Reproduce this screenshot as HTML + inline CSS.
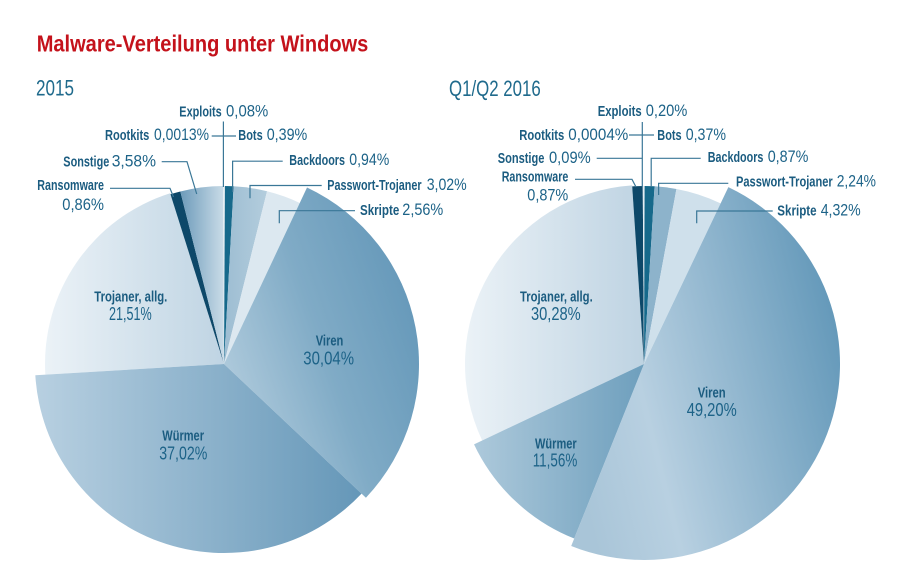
<!DOCTYPE html>
<html><head><meta charset="utf-8"><style>
html,body{margin:0;padding:0;background:#fff;}
svg{display:block;}
.b{font-family:"Liberation Sans",sans-serif;font-weight:bold;font-size:14.5px;fill:#1b5c80;}
.n{font-family:"Liberation Sans",sans-serif;font-weight:normal;font-size:16.5px;fill:#1d6388;}
.ib{font-family:"Liberation Sans",sans-serif;font-weight:bold;font-size:15px;fill:#1b5c80;}
.in{font-family:"Liberation Sans",sans-serif;font-weight:normal;font-size:18.5px;fill:#1d6388;}
.ln{stroke:#3a7797;stroke-width:1.2;fill:none;}
</style></head><body>
<svg width="900" height="586" viewBox="0 0 900 586" xmlns="http://www.w3.org/2000/svg">
<defs>
<linearGradient id="lTro" x1="0" y1="0" x2="1" y2="0"><stop offset="0" stop-color="#ebf2f7"/><stop offset="1" stop-color="#bfd4e3"/></linearGradient>
<linearGradient id="lWur" x1="0" y1="0" x2="1" y2="0"><stop offset="0" stop-color="#b8d0e1"/><stop offset="1" stop-color="#6597b8"/></linearGradient>
<linearGradient id="lVir" x1="0" y1="0.9" x2="1" y2="0.35"><stop offset="0" stop-color="#bcd3e2"/><stop offset="0.55" stop-color="#80abc6"/><stop offset="1" stop-color="#6598b9"/></linearGradient>
<linearGradient id="lSon" x1="0" y1="0" x2="1" y2="0"><stop offset="0" stop-color="#6d9bba"/><stop offset="1" stop-color="#cadce8"/></linearGradient>
<linearGradient id="lPas" x1="0" y1="0" x2="1" y2="0"><stop offset="0" stop-color="#9dbdd2"/><stop offset="1" stop-color="#b3cddd"/></linearGradient>
<linearGradient id="rTro" x1="0" y1="0" x2="1" y2="0"><stop offset="0" stop-color="#ebf2f7"/><stop offset="1" stop-color="#bed3e2"/></linearGradient>
<linearGradient id="rWur" x1="0" y1="0" x2="1" y2="0"><stop offset="0" stop-color="#adc9db"/><stop offset="1" stop-color="#6e9fbd"/></linearGradient>
<linearGradient id="rVir" x1="0" y1="0.7" x2="1" y2="0.35"><stop offset="0" stop-color="#a9c5d8"/><stop offset="0.28" stop-color="#b8d0e1"/><stop offset="1" stop-color="#6398b9"/></linearGradient>
</defs>
<rect width="900" height="586" fill="#fff"/>

<!-- Titles -->
<text x="36.7" y="51.5" font-family="Liberation Sans, sans-serif" font-weight="bold" font-size="23" fill="#c4121b" textLength="331.6" lengthAdjust="spacingAndGlyphs">Malware-Verteilung unter Windows</text>
<text x="36" y="95.5" font-family="Liberation Sans, sans-serif" font-size="22" fill="#1f6a8c" textLength="38" lengthAdjust="spacingAndGlyphs">2015</text>
<text x="449" y="96" font-family="Liberation Sans, sans-serif" font-size="22" fill="#1f6a8c" textLength="91.7" lengthAdjust="spacingAndGlyphs">Q1/Q2 2016</text>

<!-- LEFT PIE -->
<path d="M224,364 L45.31,374.62 A179,179 0 0 1 170.17,193.28 Z" fill="url(#lTro)"/>
<path d="M224,364 L170.47,194.24 A178,178 0 0 1 180.33,191.44 Z" fill="#0d4869"/>
<path d="M224,364 L180.33,191.44 A178,178 0 0 1 223.07,186 Z" fill="url(#lSon)"/>
<path d="M224,364 L223.07,186 A178,178 0 0 1 224.93,186 Z" fill="#e4edf3"/>
<path d="M224,364 L224.93,186 A178,178 0 0 1 233.63,186.26 Z" fill="#16698b"/>
<path d="M224,364 L233.63,186.26 A178,178 0 0 1 267.06,191.29 Z" fill="url(#lPas)"/>
<path d="M224,364 L267.06,191.29 A178,178 0 0 1 299.79,202.94 Z" fill="#dce8f0"/>
<path d="M224,364 L307.03,187.56 A195,195 0 0 1 365.92,497.73 Z" fill="url(#lVir)"/>
<path d="M224,364 L361.55,493.62 A189,189 0 0 1 35.33,375.21 Z" fill="url(#lWur)"/>

<!-- RIGHT PIE -->
<path d="M644,364 L482.17,440.5 A179,179 0 0 1 632.14,185.39 Z" fill="url(#rTro)"/>
<path d="M644,364 L632.2,186.39 A178,178 0 0 1 642.76,186 Z" fill="#0d4869"/>
<path d="M644,364 L642.76,186 A178,178 0 0 1 644.62,186 Z" fill="#e4edf3"/>
<path d="M644,364 L644.62,186 A178,178 0 0 1 654.56,186.31 Z" fill="#16698b"/>
<path d="M644,364 L654.56,186.31 A178,178 0 0 1 676.44,188.98 Z" fill="#8db3cb"/>
<path d="M644,364 L676.44,188.98 A178,178 0 0 1 720.63,203.34 Z" fill="#cfe0eb"/>
<path d="M644,364 L728.38,187.09 A196,196 0 0 1 571.21,545.98 Z" fill="url(#rVir)"/>
<path d="M644,364 L574.18,538.56 A188,188 0 0 1 474.03,444.34 Z" fill="url(#rWur)"/>

<!-- LEFT leader lines -->
<path class="ln" d="M223.4,121.5 V187"/>
<path class="ln" d="M211.7,136 H236"/>
<path class="ln" d="M161.7,161.7 H187 L196.7,194"/>
<path class="ln" d="M282.7,161.2 H232.6 V192"/>
<path class="ln" d="M110,188.3 H170 L173.5,197"/>
<path class="ln" d="M321.7,185.5 H250 V198.3"/>
<path class="ln" d="M355,210.7 H279.3 V223.3"/>

<!-- RIGHT leader lines -->
<path class="ln" d="M642.3,122 V187"/>
<path class="ln" d="M629,135 H654"/>
<path class="ln" d="M596.7,158.3 H642.3"/>
<path class="ln" d="M700.7,158.3 H651.2 V187"/>
<path class="ln" d="M575,179.3 H632 L636,187"/>
<path class="ln" d="M728.3,183.3 H658.6 V195"/>
<path class="ln" d="M772.7,211 H696.7 V223.3"/>

<!-- LEFT labels -->
<text class="b" x="179.3" y="116.7" textLength="42.4" lengthAdjust="spacingAndGlyphs">Exploits</text>
<text class="n" x="226" y="116.7" textLength="42.3" lengthAdjust="spacingAndGlyphs">0,08%</text>
<text class="b" x="105" y="140" textLength="44.3" lengthAdjust="spacingAndGlyphs">Rootkits</text>
<text class="n" x="154" y="140" textLength="55" lengthAdjust="spacingAndGlyphs">0,0013%</text>
<text class="b" x="238.3" y="140" textLength="24.4" lengthAdjust="spacingAndGlyphs">Bots</text>
<text class="n" x="266.7" y="140" textLength="40.6" lengthAdjust="spacingAndGlyphs">0,39%</text>
<text class="b" x="63.3" y="166.5" textLength="46" lengthAdjust="spacingAndGlyphs">Sonstige</text>
<text class="n" x="111.7" y="166.5" textLength="44.3" lengthAdjust="spacingAndGlyphs">3,58%</text>
<text class="b" x="289.3" y="165" textLength="55.7" lengthAdjust="spacingAndGlyphs">Backdoors</text>
<text class="n" x="349.3" y="165" textLength="40" lengthAdjust="spacingAndGlyphs">0,94%</text>
<text class="b" x="37.3" y="190" textLength="66.7" lengthAdjust="spacingAndGlyphs">Ransomware</text>
<text class="n" x="62.3" y="210" textLength="41.7" lengthAdjust="spacingAndGlyphs">0,86%</text>
<text class="b" x="327.3" y="190" textLength="94.3" lengthAdjust="spacingAndGlyphs">Passwort-Trojaner</text>
<text class="n" x="426.7" y="190" textLength="40" lengthAdjust="spacingAndGlyphs">3,02%</text>
<text class="b" x="360" y="215" textLength="39.3" lengthAdjust="spacingAndGlyphs">Skripte</text>
<text class="n" x="402.3" y="215" textLength="41" lengthAdjust="spacingAndGlyphs">2,56%</text>

<text class="ib" x="94.3" y="301.7" textLength="73" lengthAdjust="spacingAndGlyphs">Trojaner, allg.</text>
<text class="in" x="109" y="320" textLength="42.7" lengthAdjust="spacingAndGlyphs">21,51%</text>
<text class="ib" x="315.7" y="345.7" textLength="27.6" lengthAdjust="spacingAndGlyphs">Viren</text>
<text class="in" x="303.3" y="364.3" textLength="50.7" lengthAdjust="spacingAndGlyphs">30,04%</text>
<text class="ib" x="162.3" y="440.7" textLength="41.7" lengthAdjust="spacingAndGlyphs">Würmer</text>
<text class="in" x="159.3" y="459.3" textLength="48" lengthAdjust="spacingAndGlyphs">37,02%</text>

<!-- RIGHT labels -->
<text class="b" x="597.7" y="116" textLength="44" lengthAdjust="spacingAndGlyphs">Exploits</text>
<text class="n" x="645.7" y="116" textLength="41.7" lengthAdjust="spacingAndGlyphs">0,20%</text>
<text class="b" x="519.3" y="140" textLength="45" lengthAdjust="spacingAndGlyphs">Rootkits</text>
<text class="n" x="568.3" y="140" textLength="60" lengthAdjust="spacingAndGlyphs">0,0004%</text>
<text class="b" x="657.3" y="140" textLength="24.3" lengthAdjust="spacingAndGlyphs">Bots</text>
<text class="n" x="685.7" y="140" textLength="40.3" lengthAdjust="spacingAndGlyphs">0,37%</text>
<text class="b" x="497.7" y="163" textLength="46.7" lengthAdjust="spacingAndGlyphs">Sonstige</text>
<text class="n" x="549" y="163" textLength="41.7" lengthAdjust="spacingAndGlyphs">0,09%</text>
<text class="b" x="707.7" y="162" textLength="55.7" lengthAdjust="spacingAndGlyphs">Backdoors</text>
<text class="n" x="767.7" y="162" textLength="40.7" lengthAdjust="spacingAndGlyphs">0,87%</text>
<text class="b" x="501.7" y="181.7" textLength="66.7" lengthAdjust="spacingAndGlyphs">Ransomware</text>
<text class="n" x="527.3" y="200.7" textLength="41" lengthAdjust="spacingAndGlyphs">0,87%</text>
<text class="b" x="736" y="186.7" textLength="96.7" lengthAdjust="spacingAndGlyphs">Passwort-Trojaner</text>
<text class="n" x="836.7" y="186.7" textLength="39.3" lengthAdjust="spacingAndGlyphs">2,24%</text>
<text class="b" x="777.3" y="215.7" textLength="39.3" lengthAdjust="spacingAndGlyphs">Skripte</text>
<text class="n" x="820.7" y="215.7" textLength="40" lengthAdjust="spacingAndGlyphs">4,32%</text>

<text class="ib" x="520" y="301.7" textLength="72.7" lengthAdjust="spacingAndGlyphs">Trojaner, allg.</text>
<text class="in" x="531" y="320" textLength="49.7" lengthAdjust="spacingAndGlyphs">30,28%</text>
<text class="ib" x="697.7" y="397.3" textLength="28" lengthAdjust="spacingAndGlyphs">Viren</text>
<text class="in" x="686.7" y="416" textLength="50" lengthAdjust="spacingAndGlyphs">49,20%</text>
<text class="ib" x="535" y="448.3" textLength="41.7" lengthAdjust="spacingAndGlyphs">Würmer</text>
<text class="in" x="532.7" y="466.7" textLength="44.6" lengthAdjust="spacingAndGlyphs">11,56%</text>
</svg>
</body></html>
